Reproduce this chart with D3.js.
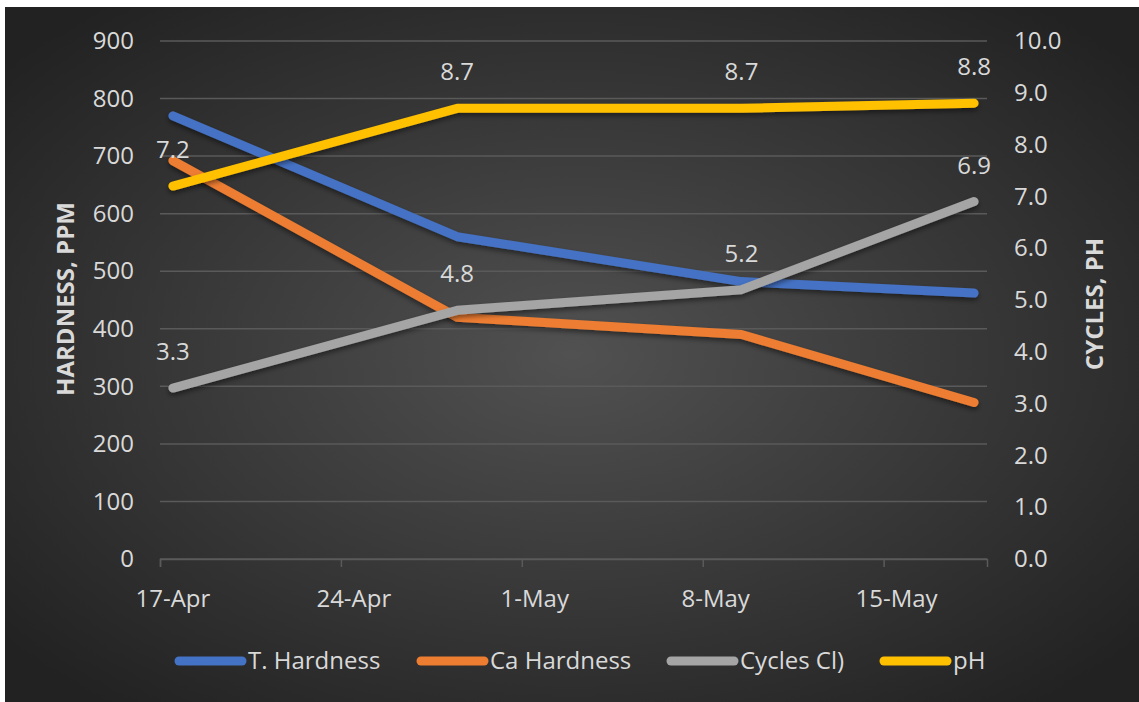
<!DOCTYPE html>
<html><head><meta charset="utf-8">
<script src="https://cdn.jsdelivr.net/npm/d3@7/dist/d3.min.js"></script>
<style>
html,body{margin:0;padding:0;background:#fff;}
svg{display:block;font-family:"Open Sans",sans-serif;}
</style></head>
<body>
<svg id="chart" width="1139" height="702"></svg>
<script>
// ---- data ----
const dates = ["2019-04-17", "2019-04-28", "2019-05-09", "2019-05-18"];
const tHardness = [770, 560, 482, 462];
const caHardness = [692, 420, 390, 272];
const cycles = [3.3, 4.8, 5.2, 6.9];
const pH = [7.2, 8.7, 8.7, 8.8];
const seriesNames = ["T. Hardness", "Ca Hardness", "Cycles Cl)", "pH"];
const leftTicks = [0, 100, 200, 300, 400, 500, 600, 700, 800, 900];
const rightTicks = [0, 1, 2, 3, 4, 5, 6, 7, 8, 9, 10];
const xTickDates = ["2019-04-17", "2019-04-24", "2019-05-01", "2019-05-08", "2019-05-15"];
const axisStart = "2019-04-17", axisEnd = "2019-05-19";

const colors = ["#4472C4", "#ED7D31", "#A5A5A5", "#FFC000"];
const textColor = "#D9D9D9";

const parse = d3.utcParse("%Y-%m-%d");
const fmt = d3.utcFormat("%-d-%b");
const svg = d3.select("#chart");

// background
const defs = svg.append("defs");
const rg = defs.append("radialGradient").attr("id", "bg")
  .attr("cx", "50%").attr("cy", "50%").attr("r", "65%");
rg.append("stop").attr("offset", "0%").attr("stop-color", "#515151");
rg.append("stop").attr("offset", "100%").attr("stop-color", "#222222");
const f = defs.append("filter").attr("id", "sh").attr("x", "-10%").attr("y", "-10%").attr("width", "120%").attr("height", "130%");
f.append("feDropShadow").attr("dx", 0).attr("dy", 3).attr("stdDeviation", 2.5)
  .attr("flood-color", "#000").attr("flood-opacity", 0.45);

svg.append("rect").attr("x", 5).attr("y", 7).attr("width", 1134).attr("height", 695).attr("fill", "url(#bg)");

const L = 160, R = 987, T = 41, B = 559;
const x = d3.scaleUtc().domain([parse(axisStart), parse(axisEnd)]).range([L, R]);
const yL = d3.scaleLinear().domain([0, 900]).range([B, T]);
const yR = d3.scaleLinear().domain([0, 10]).range([B, T]);
const halfDay = 12 * 3600 * 1000;
const px = d => x(new Date(parse(d).getTime() + halfDay));

// gridlines
svg.append("g").selectAll("line").data(leftTicks).join("line")
  .attr("x1", L).attr("x2", R).attr("y1", d => yL(d)).attr("y2", d => yL(d))
  .attr("stroke", "#5a5a5a").attr("stroke-width", 1.5);

// x axis
const xAxis = d3.axisBottom(x).tickValues(xTickDates.map(parse)).tickSize(8).tickFormat("");
const gx = svg.append("g").attr("transform", `translate(0,${B})`).call(xAxis);
gx.select(".domain").attr("stroke", "#5a5a5a").attr("stroke-width", 1.5);
gx.selectAll(".tick line").attr("stroke", "#5a5a5a").attr("stroke-width", 1.5);
svg.append("g").selectAll("text").data(xTickDates).join("text")
  .attr("x", d => px(d)).attr("y", 607).attr("text-anchor", "middle")
  .attr("fill", textColor).attr("font-size", 24).text(d => fmt(parse(d)));

// left axis labels
const gl = svg.append("g").attr("transform", `translate(${L},0)`)
  .call(d3.axisLeft(yL).tickValues(leftTicks).tickSize(0).tickPadding(26));
gl.select(".domain").remove();
gl.selectAll("text").attr("fill", textColor).attr("font-size", 24).attr("font-family", "Open Sans");

// right axis labels
const gr = svg.append("g").attr("transform", `translate(${R},0)`)
  .call(d3.axisRight(yR).tickValues(rightTicks).tickSize(0).tickPadding(27).tickFormat(d3.format(".1f")));
gr.select(".domain").remove();
gr.selectAll("text").attr("fill", textColor).attr("font-size", 24).attr("font-family", "Open Sans");

// axis titles
svg.append("text").attr("transform", "translate(74,299) rotate(-90)").attr("text-anchor", "middle")
  .attr("fill", textColor).attr("font-size", 24).attr("font-weight", "bold").text("HARDNESS, PPM");
svg.append("text").attr("transform", "translate(1103,304) rotate(-90)").attr("text-anchor", "middle")
  .attr("fill", textColor).attr("font-size", 24).attr("font-weight", "bold").text("CYCLES, PH");

// lines
const series = [
  {vals: tHardness, y: yL},
  {vals: caHardness, y: yL},
  {vals: cycles, y: yR, labels: true},
  {vals: pH, y: yR, labels: true}
];
series.forEach((s, i) => {
  const pts = dates.map((d, j) => [px(d), s.y(s.vals[j])]);
  svg.append("path").datum(pts).attr("d", d3.line())
    .attr("fill", "none").attr("stroke", colors[i]).attr("stroke-width", 9)
    .attr("stroke-linecap", "round").attr("stroke-linejoin", "round")
    .attr("filter", "url(#sh)");
});
series.forEach((s, i) => {
  if (!s.labels) return;
  svg.append("g").selectAll("text").data(dates).join("text")
    .attr("x", d => px(d)).attr("y", (d, j) => s.y(s.vals[j]) - 28)
    .attr("text-anchor", "middle").attr("fill", textColor).attr("font-size", 24)
    .text((d, j) => d3.format(".1f")(s.vals[j]));
});

// legend
const legX = [175, 417, 667, 880];
const lg = svg.append("g");
seriesNames.forEach((n, i) => {
  lg.append("line").attr("x1", legX[i] + 4).attr("x2", legX[i] + 67).attr("y1", 661).attr("y2", 661)
    .attr("stroke", colors[i]).attr("stroke-width", 9).attr("stroke-linecap", "round");
  lg.append("text").attr("x", legX[i] + 73).attr("y", 669).attr("fill", textColor)
    .attr("font-size", 24).text(n);
});
</script>
</body></html>
